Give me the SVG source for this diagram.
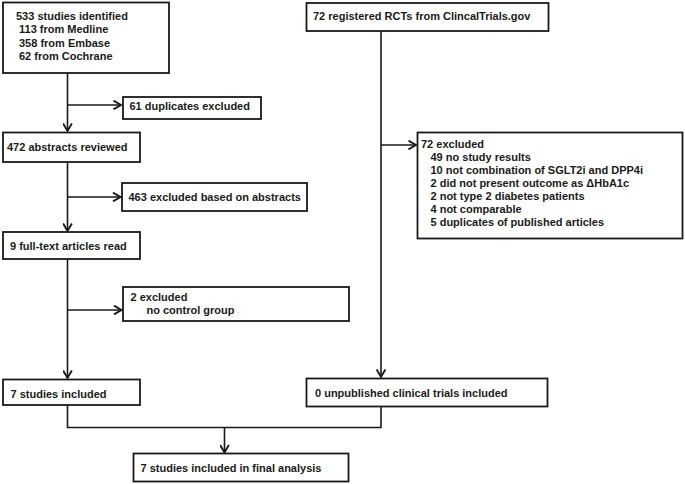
<svg xmlns="http://www.w3.org/2000/svg" width="685" height="484" viewBox="0 0 685 484">
<defs>
<style>
.box{fill:#fff;stroke:#1a1a1a;stroke-width:1.8}
.ln{fill:none;stroke:#1a1a1a;stroke-width:1.6}
text{font-family:"Liberation Sans",Arial,sans-serif;font-weight:bold;font-size:11px;fill:#1a1a1a}
</style>
<marker id="arr" markerUnits="userSpaceOnUse" markerWidth="10" markerHeight="10" viewBox="0 0 8 8" refX="6.5" refY="4" orient="auto">
<path d="M0.5,0.5 L6.5,4 L0.5,7.5" fill="none" stroke="#1a1a1a" stroke-width="1.5"/>
</marker>
</defs>
<rect width="685" height="484" fill="#fff"/>
<g id="connectors">
<line class="ln" x1="67.5" y1="73" x2="67.5" y2="131" marker-end="url(#arr)"/>
<line class="ln" x1="67.5" y1="105" x2="121" y2="105" marker-end="url(#arr)"/>
<line class="ln" x1="67.5" y1="162" x2="67.5" y2="231" marker-end="url(#arr)"/>
<line class="ln" x1="67.5" y1="197" x2="120.5" y2="197" marker-end="url(#arr)"/>
<line class="ln" x1="67.5" y1="259" x2="67.5" y2="378" marker-end="url(#arr)"/>
<line class="ln" x1="67.5" y1="310" x2="121.5" y2="310" marker-end="url(#arr)"/>
<line class="ln" x1="381" y1="31" x2="381" y2="377" marker-end="url(#arr)"/>
<line class="ln" x1="381" y1="145" x2="416" y2="145" marker-end="url(#arr)"/>
<polyline class="ln" points="67.5,405 67.5,427.5 381,427.5 381,407"/>
<line class="ln" x1="224.5" y1="427.5" x2="224.5" y2="452.5" marker-end="url(#arr)"/>
</g>
<g id="identified">
<rect class="box" x="3" y="2.5" width="166" height="70.5"/>
<text x="16" y="20">533 studies identified</text>
<text x="19" y="33.3">113 from Medline</text>
<text x="19" y="46.6">358 from Embase</text>
<text x="19" y="60">62 from Cochrane</text>
</g>
<g id="duplicates">
<rect class="box" x="123" y="97" width="138" height="22"/>
<text x="129.5" y="110">61 duplicates excluded</text>
</g>
<g id="abstracts">
<rect class="box" x="3" y="132.5" width="137" height="29.5"/>
<text x="7" y="150.5">472 abstracts reviewed</text>
</g>
<g id="excl-abstracts">
<rect class="box" x="122" y="183" width="185" height="28"/>
<text x="128.5" y="200.5">463 excluded based on abstracts</text>
</g>
<g id="fulltext">
<rect class="box" x="3" y="232" width="137" height="27"/>
<text x="10" y="250">9 full-text articles read</text>
</g>
<g id="excl-fulltext">
<rect class="box" x="123" y="287" width="226" height="34"/>
<text x="130.5" y="301">2 excluded</text>
<text x="146.5" y="314">no control group</text>
</g>
<g id="included">
<rect class="box" x="3" y="379.5" width="137" height="25.5"/>
<text x="10.5" y="398">7 studies included</text>
</g>
<g id="final">
<rect class="box" x="133.5" y="453.5" width="215" height="28"/>
<text x="140.5" y="472">7 studies included in final analysis</text>
</g>
<g id="rcts">
<rect class="box" x="306.5" y="3" width="242" height="28"/>
<text x="313" y="20">72 registered RCTs from ClincalTrials.gov</text>
</g>
<g id="excl-rcts">
<rect class="box" x="417.5" y="132.5" width="265" height="106"/>
<text x="421" y="147.5">72 excluded</text>
<text x="430.5" y="160.6">49 no study results</text>
<text x="430.5" y="173.7">10 not combination of SGLT2i and DPP4i</text>
<text x="430.5" y="186.8">2 did not present outcome as ΔHbA1c</text>
<text x="430.5" y="199.9">2 not type 2 diabetes patients</text>
<text x="430.5" y="213">4 not comparable</text>
<text x="430.5" y="226.1">5 duplicates of published articles</text>
</g>
<g id="unpublished">
<rect class="box" x="306.5" y="378.5" width="241" height="28"/>
<text x="315" y="397">0 unpublished clinical trials included</text>
</g>
</svg>
